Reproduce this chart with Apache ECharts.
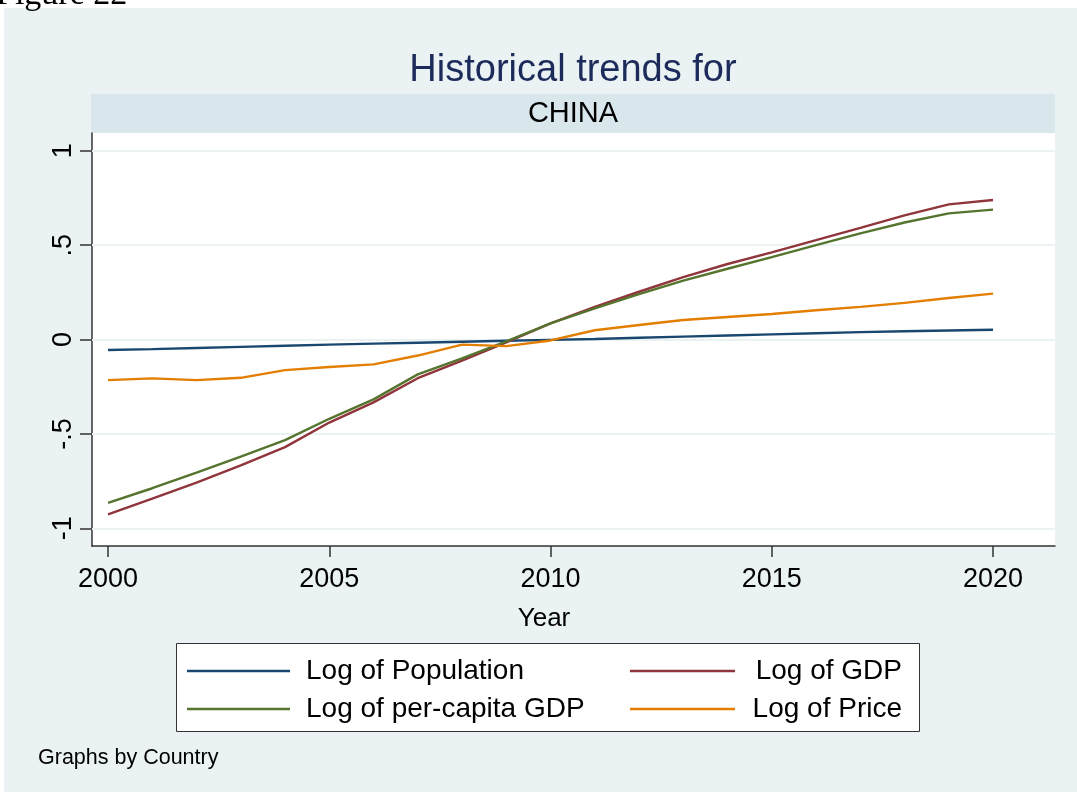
<!DOCTYPE html>
<html>
<head>
<meta charset="utf-8">
<script src="https://cdn.jsdelivr.net/npm/echarts@6/dist/echarts.min.js"></script>
<style>
html,body{margin:0;padding:0;background:#fff;}
#c{width:1077px;height:792px;}
</style>
</head>
<body>
<div id="c"></div>
<script>
const years = [2000,2001,2002,2003,2004,2005,2006,2007,2008,2009,2010,2011,2012,2013,2014,2015,2016,2017,2018,2019,2020];
const logPopulation = [-0.056,-0.051,-0.045,-0.039,-0.033,-0.027,-0.022,-0.017,-0.012,-0.007,-0.002,0.003,0.009,0.015,0.021,0.027,0.033,0.039,0.044,0.048,0.052];
const logGDP = [-0.926,-0.843,-0.758,-0.667,-0.570,-0.440,-0.333,-0.205,-0.112,-0.015,0.085,0.173,0.253,0.330,0.400,0.462,0.526,0.591,0.658,0.716,0.739];
const logPerCapitaGDP = [-0.866,-0.788,-0.705,-0.621,-0.533,-0.420,-0.317,-0.185,-0.100,-0.010,0.085,0.165,0.240,0.312,0.375,0.436,0.500,0.562,0.620,0.668,0.688];
const logPrice = [-0.215,-0.206,-0.215,-0.203,-0.162,-0.146,-0.132,-0.085,-0.027,-0.035,-0.005,0.049,0.077,0.103,0.119,0.135,0.155,0.173,0.194,0.220,0.243];
const seriesNames = ['Log of Population','Log of GDP','Log of per-capita GDP','Log of Price'];
const xTicks = [2000,2005,2010,2015,2020];
const yTicks = [-1,-0.5,0,0.5,1];
const yTickLabels = ['-1','-.5','0','.5','1'];
const titleText = 'Historical trends for';
const stripText = 'CHINA';
const xTitle = 'Year';
const noteText = 'Graphs by Country';

const FONT = 'Liberation Sans, Arial, sans-serif';
const colors = ['#1a476f','#90353b','#55752f','#e37e00'];
const seriesData = [logPopulation, logGDP, logPerCapitaGDP, logPrice];

const chart = echarts.init(document.getElementById('c'), null, {renderer:'canvas'});

const series = seriesData.map((arr,i)=>({
  name: seriesNames[i],
  type: 'line',
  data: years.map((y,j)=>[y, arr[j]]),
  symbol: 'none',
  smooth: false,
  z: 5,
  lineStyle: {color: colors[i], width: 2.4},
  itemStyle: {color: colors[i]},
  emphasis: {disabled: true},
  animation: false
}));
// gridlines drawn through the y scale
series.push({
  name: '_grid',
  type: 'line',
  data: [],
  z: 1,
  silent: true,
  animation: false,
  markLine: {
    silent: true,
    symbol: ['none','none'],
    label: {show: false},
    lineStyle: {color: '#eaf2f3', width: 2, type: 'solid'},
    emphasis: {disabled: true},
    animation: false,
    data: yTicks.map(v=>({yAxis: v}))
  }
});

const option = {
  backgroundColor: '#eaf2f3',
  animation: false,
  grid: {left: 92, right: 22, top: 133, bottom: 246, show: true, backgroundColor: '#ffffff', borderWidth: 0},
  xAxis: {
    type: 'value',
    min: 1999.638, max: 2021.40,
    axisLine: {show: true, onZero: false, lineStyle: {color: '#333', width: 1.5}},
    axisTick: {show: true, length: 11, lineStyle: {color: '#333', width: 1.5}, customValues: xTicks},
    axisLabel: {show: true, customValues: xTicks, margin: 20, fontSize: 27, color: '#000', fontFamily: FONT, formatter: v=>String(v)},
    splitLine: {show: false}
  },
  yAxis: {
    type: 'value',
    min: -1.094, max: 1.094,
    axisLine: {show: true, onZero: false, lineStyle: {color: '#333', width: 1.5}},
    axisTick: {show: true, length: 12, lineStyle: {color: '#333', width: 1.5}, customValues: yTicks},
    axisLabel: {show: true, customValues: yTicks, rotate: 90, margin: 15, fontSize: 27, color: '#000', fontFamily: FONT,
      formatter: v=>{ const k = yTicks.findIndex(t=>Math.abs(t-v)<1e-9); return k>=0 ? yTickLabels[k] : ''; }},
    splitLine: {show: false}
  },
  legend: [
    {
      data: [seriesNames[0], seriesNames[2]],
      orient: 'vertical', left: 187, top: 656, padding: 0,
      icon: 'rect', itemWidth: 103, itemHeight: 2.4, itemGap: 8,
      textStyle: {fontSize: 28, lineHeight: 30, color: '#000', fontFamily: FONT, padding: [0,0,0,11]},
      selectedMode: false
    },
    {
      data: [seriesNames[1], seriesNames[3]],
      orient: 'vertical', left: 630, top: 656, padding: 0,
      icon: 'rect', itemWidth: 105, itemHeight: 2.4, itemGap: 8,
      formatter: n=>'{r|'+n+'}',
      textStyle: {fontSize: 28, lineHeight: 30, color: '#000', fontFamily: FONT,
        rich: {r: {width: 162, align: 'right', fontSize: 28, lineHeight: 30, color: '#000', fontFamily: FONT}}},
      selectedMode: false
    }
  ],
  graphic: [
    {type: 'rect', shape: {x: 0, y: 0, width: 1077, height: 8}, style: {fill: '#ffffff'}, silent: true},
    {type: 'rect', shape: {x: 0, y: 0, width: 4, height: 792}, style: {fill: '#ffffff'}, silent: true},
    {type: 'text', x: -4, y: 12, style: {text: 'Figure 22', font: '34px "Liberation Serif", serif', fill: '#000', textAlign: 'left', textVerticalAlign: 'bottom'}, silent: true},
    {type: 'rect', shape: {x: 91, y: 94, width: 964, height: 39}, style: {fill: '#d9e6eb'}, silent: true},
    {type: 'text', x: 573, y: 114, style: {text: stripText, font: '29px "Liberation Sans", Arial, sans-serif', fill: '#000', textAlign: 'center', textVerticalAlign: 'middle'}, silent: true},
    {type: 'text', x: 573, y: 71, style: {text: titleText, font: '38px "Liberation Sans", Arial, sans-serif', fill: '#1c2b5a', textAlign: 'center', textVerticalAlign: 'middle'}, silent: true},
    {type: 'text', x: 544, y: 619, style: {text: xTitle, font: '26px "Liberation Sans", Arial, sans-serif', fill: '#000', textAlign: 'center', textVerticalAlign: 'middle'}, silent: true},
    {type: 'rect', z: -1, shape: {x: 176.5, y: 643.5, width: 743, height: 88}, style: {fill: '#ffffff', stroke: '#333', lineWidth: 1}, silent: true},
    {type: 'text', x: 38, y: 758, style: {text: noteText, font: '21.5px "Liberation Sans", Arial, sans-serif', fill: '#000', textAlign: 'left', textVerticalAlign: 'middle'}, silent: true}
  ],
  series: series
};
chart.setOption(option);
</script>
</body>
</html>
